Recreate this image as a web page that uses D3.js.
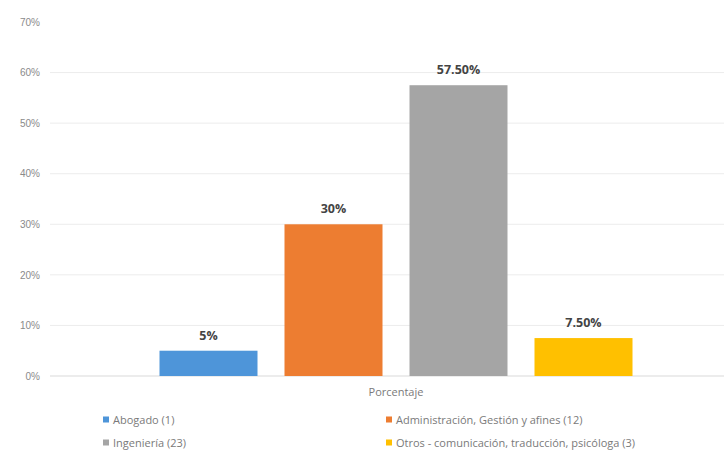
<!DOCTYPE html>
<html>
<head>
<meta charset="utf-8">
<script src="https://cdn.jsdelivr.net/npm/d3@7"></script>
<style>
  body { margin: 0; background: #fff; }
  svg { display: block; font-family: "Open Sans", "Liberation Sans", sans-serif; }
  .tick text { fill: #8a8a8a; font-size: 10px; }
  .label { fill: #444; font-size: 12.5px; font-weight: bold; }
  .legend text { fill: #7a7a7a; font-size: 11px; }
</style>
</head>
<body>
<div id="chart"></div>
<script>
const category = "Porcentaje";
const seriesNames = [
  "Abogado (1)",
  "Administración, Gestión y afines (12)",
  "Ingeniería (23)",
  "Otros - comunicación, traducción, psicóloga (3)"
];
const seriesValues = [0.05, 0.30, 0.575, 0.075];
const valueLabels = ["5%", "30%", "57.50%", "7.50%"];
const yTicks = [0, 0.1, 0.2, 0.3, 0.4, 0.5, 0.6, 0.7];
const colors = ["#4e95d9", "#ed7d31", "#a5a5a5", "#ffc000"];

const dims = {
  width: 724,
  height: 453,
  left: 62,
  right: 730,
  top: 22,
  bottom: 376
};

const svg = d3.select("#chart")
  .append("svg")
    .attr("width", dims.width)
    .attr("height", dims.height);

const yScale = d3.scaleLinear([0, 0.7], [dims.bottom, dims.top]);
const x0 = d3.scaleBand([category], [dims.left, dims.right]);
const x1 = d3.scaleBand(seriesNames, [0, x0.bandwidth()])
  .paddingInner(0.216)
  .paddingOuter(0.78);

// gridlines (none drawn at the top 70%)
svg.append("g")
  .selectAll("line")
  .data(yTicks.filter(t => t < 0.7))
  .join("line")
    .attr("x1", 50).attr("x2", dims.width)
    .attr("y1", d => yScale(d)).attr("y2", d => yScale(d))
    .attr("stroke", d => d === 0 ? "#d9d9d9" : "#ececec")
    .attr("stroke-width", 1);

const yAxis = svg.append("g")
  .attr("transform", "translate(40 0)")
  .call(d3.axisLeft(yScale).tickValues(yTicks).tickFormat(d3.format(".0%")).tickSize(0).tickPadding(0));
yAxis.select(".domain").remove();

const barG = svg.append("g")
  .attr("transform", `translate(${x0(category)} 0)`);

barG.selectAll("rect")
  .data(seriesValues)
  .join("rect")
    .attr("x", (d, i) => x1(seriesNames[i]))
    .attr("y", d => yScale(d))
    .attr("width", x1.bandwidth())
    .attr("height", d => yScale(0) - yScale(d))
    .attr("fill", (d, i) => colors[i]);

barG.selectAll("text")
  .data(seriesValues)
  .join("text")
    .attr("class", "label")
    .attr("x", (d, i) => x1(seriesNames[i]) + x1.bandwidth() / 2)
    .attr("y", d => yScale(d) - 11)
    .attr("text-anchor", "middle")
    .text((d, i) => valueLabels[i]);

svg.append("text")
  .attr("x", x0(category) + x0.bandwidth() / 2)
  .attr("y", 396)
  .attr("text-anchor", "middle")
  .attr("fill", "#7a7a7a")
  .attr("font-size", "11px")
  .text(category);

const legendPos = [[103, 420], [386, 420], [103, 443], [386, 443]];
const legend = svg.append("g").attr("class", "legend")
  .selectAll("g")
  .data(seriesNames)
  .join("g")
    .attr("transform", (d, i) => `translate(${legendPos[i][0]} ${legendPos[i][1]})`);
legend.append("rect")
  .attr("x", 0).attr("y", -3.5)
  .attr("width", 6).attr("height", 6)
  .attr("fill", (d, i) => colors[i]);
legend.append("text")
  .attr("x", 10).attr("y", 4)
  .text(d => d);
</script>
</body>
</html>
